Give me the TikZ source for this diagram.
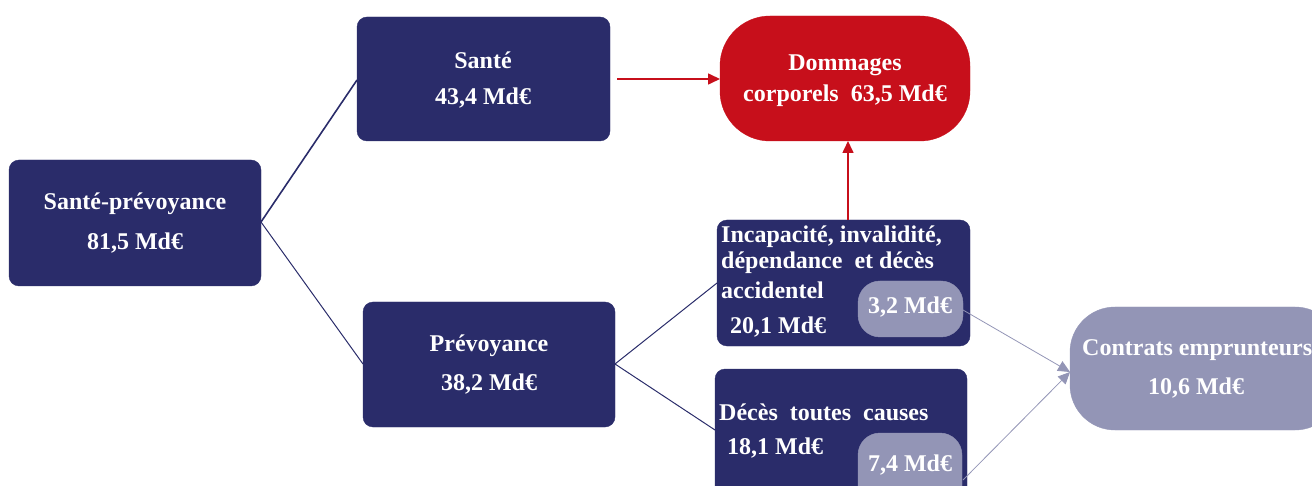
\documentclass[tikz,border=0pt]{standalone}
\usepackage{fontspec}
\setmainfont{Liberation Serif}
\usetikzlibrary{arrows.meta}
\definecolor{navy}{HTML}{2A2C6A}
\definecolor{rouge}{HTML}{C70F1B}
\definecolor{lilas}{HTML}{9395B6}
\tikzset{
  box/.style={fill=navy, draw=navy, rounded corners=10pt},
  txt/.style={text=white, font=\fontsize{24}{28}\selectfont\bfseries, inner sep=0pt},
  pill/.style={fill=lilas, draw=lilas, rounded corners=22pt},
  link/.style={draw=navy},
  lilasarrow/.style={draw=lilas, line width=0.8pt, -{Triangle[length=12pt,width=11pt]}},
  redarrow/.style={draw=rouge, line width=1.6pt, -{Triangle[length=12pt,width=11pt]}}
}
\begin{document}
\begin{tikzpicture}[x=1pt,y=-1pt]
\useasboundingbox (0,0) rectangle (1312,486);
\clip (0,0) rectangle (1312,486);
% boxes
\draw[box] (9,160) rectangle (261,286);
\node[txt] (sp1) at (135,204) {Santé-prévoyance};
\node[txt] (sp2) at (135,243) {81,5 Md€};
\coordinate (spR) at (261,222);

\draw[box] (357,17) rectangle (610,141);
\node[txt] (s1) at (483,60) {Santé};
\node[txt] (s2) at (483,98) {43,4 Md€};
\coordinate (sL) at (357,80);
\coordinate (sR) at (617,79);

\draw[box] (363,302) rectangle (615,427);
\node[txt] (p1) at (489,346) {Prévoyance};
\node[txt] (p2) at (489,384) {38,2 Md€};
\coordinate (pL) at (363,364);
\coordinate (pR) at (615,364);

\draw[fill=rouge, draw=rouge, rounded corners=50pt] (720,16) rectangle (970,141);
\node[txt] (d1) at (845,65) {Dommages};
\node[txt] (d2) at (845,96) {corporels\ \ 63,5 Md€};
\coordinate (dL) at (720,79);
\coordinate (dB) at (848,141);

\draw[box] (717,220) rectangle (970,346);
\node[txt, anchor=west] (i1) at (721,237) {Incapacité, invalidité,};
\node[txt, anchor=west] (i2) at (721,263) {dépendance\ \ et décès};
\node[txt, anchor=west] (i3) at (721,290) {accidentel};
\node[txt, anchor=west] (i4) at (730,327) {20,1 Md€};
\coordinate (iL) at (717,283);
\coordinate (iT) at (848,220);
\draw[pill] (858,281) rectangle (963,337);
\node[txt] (ip) at (910,307) {3,2 Md€};
\coordinate (ipR) at (963,310);

\draw[box] (715,369) rectangle (967,500);
\node[txt, anchor=west] (e1) at (719,412) {Décès\ \ toutes\ \ causes};
\node[txt, anchor=west] (e2) at (727,448) {18,1 Md€};
\coordinate (eL) at (715,430);
\draw[pill] (858,433) rectangle (962,510);
\node[txt] (ep) at (910,465) {7,4 Md€};
\coordinate (epR) at (963,480);

\draw[fill=lilas, draw=lilas, rounded corners=45pt] (1070,307) rectangle (1340,430);
\node[txt, anchor=west] (c1) at (1082,350) {Contrats emprunteurs};
\node[txt] (c2) at (1196,388) {10,6 Md€};
\coordinate (cL) at (1070,372);

% connectors
\draw[link, line width=1.6pt] (spR) -- (sL);
\draw[link, line width=1pt] (spR) -- (pL);
\draw[link, line width=1pt] (pR) -- (iL);
\draw[link, line width=1pt] (pR) -- (eL);
\draw[redarrow] (sR) -- (dL);
\draw[redarrow] (iT) -- (dB);
\draw[lilasarrow] (ipR) -- (cL);
\draw[lilasarrow] (epR) -- (cL);
\end{tikzpicture}
\end{document}
